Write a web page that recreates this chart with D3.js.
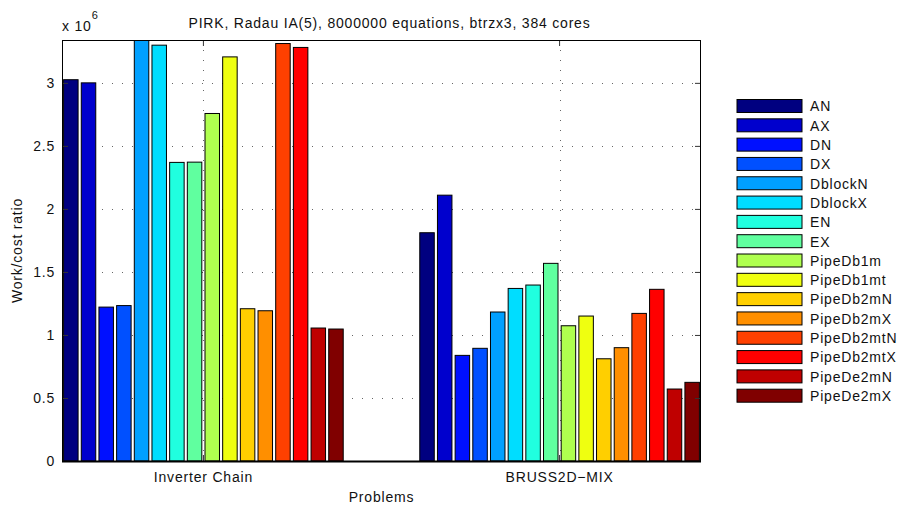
<!DOCTYPE html>
<html>
<head>
<meta charset="utf-8">
<script src="https://cdn.jsdelivr.net/npm/d3@7"></script>
<style>
  html, body { margin: 0; padding: 0; background: #fff; }
  svg { display: block; font-family: "Liberation Sans", Arial, Helvetica, sans-serif; }
  svg text { letter-spacing: 0.8px; }
</style>
</head>
<body>
<svg id="chart" width="899" height="505"></svg>
<script>
// Problems on the x axis
const problems = ["Inverter Chain", "BRUSS2D\u2212MIX"];

// Solver variants (one bar each per problem)
const variants = ["AN", "AX", "DN", "DX", "DblockN", "DblockX", "EN", "EX",
  "PipeDb1m", "PipeDb1mt", "PipeDb2mN", "PipeDb2mX", "PipeDb2mtN", "PipeDb2mtX",
  "PipeDe2mN", "PipeDe2mX"];

// Work/cost ratio (x 10^6), one array per problem, in variant order
const inverterChain = [3.025, 3.00, 1.221, 1.233, 3.38, 3.299, 2.369, 2.371,
  2.757, 3.206, 1.208, 1.192, 3.312, 3.281, 1.055, 1.047];
const bruss2dMix = [1.811, 2.109, 0.838, 0.894, 1.182, 1.369, 1.396, 1.568,
  1.073, 1.150, 0.811, 0.899, 1.171, 1.362, 0.571, 0.624];

// Bar colours (jet colormap)
const colors = ["#000080", "#0000cd", "#0010ff", "#0050ff", "#00a0ff", "#00ddff",
  "#20ffdf", "#60ff9f", "#afff4f", "#efff10", "#ffcf00", "#ff8f00",
  "#ff4000", "#ff0000", "#bf0000", "#800000"];

// Y tick values (in units of 10^6)
const yTicks = [0, 0.5, 1, 1.5, 2, 2.5, 3];

const title = "PIRK, Radau IA(5), 8000000 equations, btrzx3, 384 cores";

const seriesByProblem = [inverterChain, bruss2dMix];

const svg = d3.select("#chart");
const plotL = 62, plotR = 701, plotT = 40, plotB = 461;
const fontSize = 14;

const x0 = d3.scaleBand().domain(problems).range([plotL, plotR])
  .paddingInner(0.206).paddingOuter(0);
const x1 = d3.scaleBand().domain(variants).range([0, x0.bandwidth()])
  .paddingInner(0.18).paddingOuter(0.09);
const y = d3.scaleLinear().domain([0, 3.34]).range([plotB, plotT]);
const color = d3.scaleOrdinal().domain(variants).range(colors);

svg.append("defs").append("clipPath").attr("id", "plotClip")
  .append("rect").attr("x", plotL).attr("y", plotT)
  .attr("width", plotR - plotL).attr("height", plotB - plotT);

// Dotted grid behind the bars
const grid = svg.append("g").attr("stroke", "#666").attr("stroke-width", 1)
  .attr("stroke-dasharray", "1,9");
grid.selectAll("line.h").data(yTicks.filter(d => d > 0)).join("line")
  .attr("class", "h")
  .attr("x1", plotL).attr("x2", plotR)
  .attr("y1", d => Math.round(y(d)) + 0.5).attr("y2", d => Math.round(y(d)) + 0.5);
grid.selectAll("line.v").data(problems).join("line")
  .attr("class", "v")
  .attr("x1", d => Math.round(x0(d) + x0.bandwidth() / 2) + 0.5)
  .attr("x2", d => Math.round(x0(d) + x0.bandwidth() / 2) + 0.5)
  .attr("y1", plotT).attr("y2", plotB);

// Bars
const groups = svg.append("g").attr("clip-path", "url(#plotClip)")
  .selectAll("g").data(problems).join("g")
  .attr("transform", d => `translate(${x0(d)},0)`);
groups.selectAll("rect")
  .data((p, i) => variants.map((v, j) => ({ variant: v, value: seriesByProblem[i][j] })))
  .join("rect")
  .attr("x", d => x1(d.variant))
  .attr("y", d => y(d.value))
  .attr("width", x1.bandwidth())
  .attr("height", d => y(0) - y(d.value))
  .attr("fill", d => color(d.variant))
  .attr("stroke", "#000")
  .attr("stroke-width", 1);

// Axes (ticks inward, mirrored on the opposite sides)
const tickLen = 6;
const axisLeft = d3.axisLeft(y).tickValues(yTicks).tickSizeInner(-tickLen)
  .tickSizeOuter(0).tickPadding(7).tickFormat(d3.format("~g"));
const axisRight = d3.axisRight(y).tickValues(yTicks).tickSizeInner(-tickLen)
  .tickSizeOuter(0).tickFormat("");
const axisBottom = d3.axisBottom(x0).tickSizeInner(-tickLen).tickSizeOuter(0)
  .tickPadding(11);
const axisTop = d3.axisTop(x0).tickSizeInner(-tickLen).tickSizeOuter(0).tickFormat("");

function style(g) {
  g.select(".domain").remove();
  g.selectAll(".tick line").attr("stroke", "#333");
  g.selectAll(".tick text").attr("fill", "#111").attr("font-size", fontSize)
    .attr("font-family", "Liberation Sans, Arial, sans-serif");
}
svg.append("g").attr("transform", `translate(${plotL},0)`).call(axisLeft).call(style);
svg.append("g").attr("transform", `translate(${plotR},0)`).call(axisRight).call(style);
svg.append("g").attr("transform", `translate(0,${plotB})`).call(axisBottom).call(style);
svg.append("g").attr("transform", `translate(0,${plotT})`).call(axisTop).call(style);

// Frame
svg.append("rect").attr("x", plotL + 0.5).attr("y", plotT + 0.5)
  .attr("width", plotR - plotL - 1).attr("height", plotB - plotT)
  .attr("fill", "none").attr("stroke", "#000").attr("stroke-width", 1);
svg.append("line").attr("x1", plotL).attr("x2", plotR)
  .attr("y1", plotB + 0.5).attr("y2", plotB + 0.5)
  .attr("stroke", "#000").attr("stroke-width", 2);

// Exponent label
const expo = svg.append("text").attr("x", 62).attr("y", 31)
  .attr("font-size", fontSize).attr("fill", "#111");
expo.append("tspan").text("x 10");
expo.append("tspan").attr("dy", -12).attr("font-size", 11).text("6");

// Title and axis labels
svg.append("text").attr("x", (plotL + plotR) / 2 + 8).attr("y", 28)
  .attr("text-anchor", "middle").attr("font-size", fontSize).attr("fill", "#111").text(title);
svg.append("text").attr("x", (plotL + plotR) / 2).attr("y", 502)
  .attr("text-anchor", "middle").attr("font-size", fontSize).attr("fill", "#111").text("Problems");
svg.append("text").attr("transform", `translate(22,${(plotT + plotB) / 2}) rotate(-90)`)
  .attr("text-anchor", "middle").attr("font-size", fontSize).attr("fill", "#111").text("Work/cost ratio");

// Legend
const legendRow = d3.scalePoint().domain(variants).range([106, 395.7]);
const legend = svg.append("g").selectAll("g").data(variants).join("g")
  .attr("transform", d => `translate(737,${legendRow(d)})`);
legend.append("rect").attr("x", 0).attr("y", -6.5).attr("width", 65).attr("height", 13)
  .attr("fill", d => color(d)).attr("stroke", "#000").attr("stroke-width", 1);
legend.append("text").attr("x", 73).attr("y", 5.3).attr("font-size", fontSize)
  .attr("fill", "#111").text(d => d);
</script>
</body>
</html>
